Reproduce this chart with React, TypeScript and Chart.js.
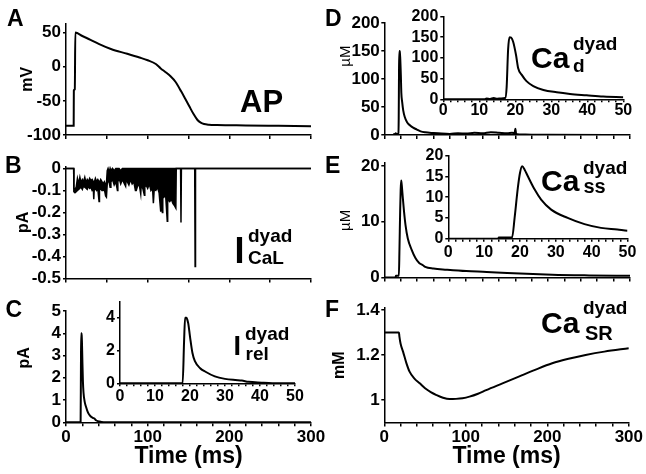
import React, { useEffect, useRef } from "react";
import { Chart, registerables } from "chart.js";
Chart.register(...registerables);

const FONT = "'Liberation Sans', Arial, Helvetica, sans-serif";

// ---------- DATA ----------
// A: action potential (mV)
const apTime = [0, 9.4, 9.6, 10.8, 11.4, 20, 30, 40, 55, 75, 90, 100, 110, 116, 122, 128, 134, 141, 146, 151, 156, 161, 165, 169, 175, 185, 220, 260, 300];
const apVm = [-86.5, -86.5, -35, -33, 50, 45, 39.5, 33.5, 26, 19, 13.5, 9.5, 4, -2.5, -8, -14, -22, -36, -47, -58, -69, -78, -82, -84, -85, -85.5, -86, -86.5, -87];

// B: I_CaL dyad (pA) – upper / lower envelope of the gating noise
const bTime = [0, 9.4, 9.6, 11, 12.5, 14, 15.5, 17, 18.5, 20,
  21.5, 23, 24.5, 26, 27.5, 29, 30.5, 32, 33.5, 34,
  34.5, 36, 37.5, 39, 40.5, 41, 42.5, 44, 45.5, 47,
  48.5, 49.5, 50.5, 51.5, 53, 54, 55, 57, 59, 61,
  63, 63.5, 65, 67, 69, 71, 73, 73.5, 75, 77,
  79, 81, 83, 85, 86, 88, 90, 91.5, 92, 94,
  96, 96.5, 98, 100, 102, 104, 106, 107, 108, 110,
  112, 114, 116, 116.5, 118, 118.5, 120, 122, 124, 124.5,
  127, 129, 131, 133, 134.5, 135, 140.3, 140.8, 141.3, 157.6,
  158.1, 158.6, 300];
const bUpper = [0, 0, -0.09, -0.095, -0.085, -0.045, -0.07, -0.04, -0.065, -0.05,
  -0.06, -0.04, -0.065, -0.05, -0.06, -0.045, -0.055, -0.05, -0.06, -0.06,
  -0.065, -0.045, -0.06, -0.05, -0.06, -0.065, -0.05, -0.06, -0.07, -0.06,
  -0.075, -0.07, -0.01, 0, -0.02, 0, -0.015, 0, -0.01, 0,
  0, 0, 0, -0.01, 0, 0, 0, 0, 0, 0,
  0, 0, 0, 0, 0, 0, 0, 0, 0, 0,
  0, 0, 0, 0, 0, 0, 0, 0, 0, 0,
  0, 0, 0, 0, 0, 0, 0, 0, 0, 0,
  0, 0, 0, 0, 0, 0, 0, 0, 0, 0,
  0, 0, 0];
const bLower = [0, 0, -0.105, -0.11, -0.105, -0.1, -0.095, -0.09, -0.085, -0.095,
  -0.08, -0.085, -0.09, -0.095, -0.08, -0.09, -0.085, -0.1, -0.095, -0.14,
  -0.1, -0.09, -0.1, -0.095, -0.15, -0.1, -0.09, -0.1, -0.1, -0.095,
  -0.125, -0.13, -0.07, -0.05, -0.065, -0.085, -0.06, -0.05, -0.075, -0.06,
  -0.1, -0.06, -0.045, -0.07, -0.05, -0.065, -0.08, -0.055, -0.06, -0.075,
  -0.05, -0.07, -0.06, -0.1, -0.1, -0.075, -0.08, -0.115, -0.08, -0.09,
  -0.122, -0.085, -0.075, -0.09, -0.07, -0.1, -0.09, -0.158, -0.095, -0.1,
  -0.085, -0.11, -0.196, -0.11, -0.2, -0.12, -0.13, -0.12, -0.24, -0.14,
  -0.15, -0.14, -0.16, -0.17, -0.18, 0, 0, -0.245, 0, 0,
  -0.446, 0, 0];

// C: I_rel dyad (pA)
const irelTime = [0, 17.9, 18.3, 18.6, 19.0, 19.2, 19.5, 20, 20.7, 21.4, 22.9, 24.3, 27.1, 30, 32.9, 34.8, 36.7, 40.5, 43.5, 50, 300];
const irelVal = [0, 0, 2.5, 4.0, 4.0, 3.9, 3.65, 2.85, 1.85, 1.35, 0.92, 0.72, 0.42, 0.27, 0.2, 0.17, 0.09, 0.04, 0.01, 0, 0];

// D: Ca_d dyad (uM)
const cadTime = [0, 11.5, 12, 13, 14, 15, 16, 17.2, 17.6, 18.0, 18.4, 18.8, 19.4, 20.2, 20.8, 21.8, 23.1, 25, 27.8, 31.5, 35.2, 39.8, 44.4, 50, 60, 70, 80, 90, 100, 110, 120, 130, 140, 150, 156, 159, 160, 161, 165, 180, 200, 300];
const cadVal = [0, 0, 2, 1, 3, 1.5, 2, 3, 30, 120, 150, 149, 139, 107, 75, 59, 44, 32, 22.6, 17, 13, 9.7, 6.5, 4.8, 3.5, 2.5, 2, 3, 2.5, 4, 3, 5, 4, 3, 4, 3, 11, 2, 1, 0.5, 0.3, 0];

// E: Ca_ss dyad (uM)
const cassTime = [0, 13.9, 14.1, 17.8, 18.5, 19.4, 20, 20.6, 21.3, 22.2, 24.1, 25.9, 28.7, 33.3, 38, 42.6, 47.2, 50, 60, 76, 100, 125, 150, 205, 250, 300];
const cassVal = [0, 0, 0.3, 0.3, 5, 12.2, 15.8, 17.4, 16.6, 15, 11.8, 9.4, 7.0, 5.0, 3.5, 2.6, 2.2, 1.9, 1.6, 1.4, 1.15, 1.0, 0.8, 0.5, 0.38, 0.3];

// F: Ca_SR dyad (mM)
const casrTime = [0, 18, 18.5, 20, 23, 27, 31, 37, 43.5, 50, 57, 64, 72, 80, 88, 96, 104.5, 115, 125, 145, 165, 185, 206, 226, 247, 270, 300];
const casrVal = [1.3, 1.3, 1.283, 1.25, 1.215, 1.165, 1.126, 1.095, 1.074, 1.052, 1.035, 1.022, 1.01, 1.004, 1.005, 1.008, 1.015, 1.028, 1.044, 1.074, 1.104, 1.134, 1.163, 1.183, 1.2, 1.215, 1.23];

// tick labels
const mainXLabels = [0, 100, 200, 300];
const insetXLabels = [0, 10, 20, 30, 40, 50];
const yTicksA = [-100, -50, 0, 50];
const yTicksB = [-0.5, -0.4, -0.3, -0.2, -0.1, 0];
const yTicksC = [0, 1, 2, 3, 4, 5];
const yTicksCin = [0, 2, 4];
const yTicksD = [0, 50, 100, 150, 200];
const yTicksDin = [0, 50, 100, 150, 200];
const yTicksE = [0, 10, 20];
const yTicksEin = [0, 5, 10, 15, 20];
const yTicksF = [1, 1.2, 1.4];

// ---------- helpers ----------
function range(a: number, b: number, s: number) {
  const r: number[] = [];
  for (let v = a; v <= b + 1e-9; v += s) r.push(Math.round(v * 1000) / 1000);
  return r;
}

function line(times: number[], vals: number[], extra: any = {}) {
  return {
    data: times.map((x, i) => ({ x, y: vals[i] })),
    borderColor: "#000",
    borderWidth: 2,
    pointRadius: 0,
    fill: false,
    cubicInterpolationMode: "monotone",
    ...extra,
  };
}

const fmt1 = (zero: number) => (v: number) => (Math.abs(v - zero) < 1e-9 ? String(zero) : v.toFixed(1));

type Spec = {
  id: string;
  area: [number, number, number, number];
  m: [number, number, number, number];
  x: { min: number; max: number; ticks: number[]; labels: number[]; font: number; tick: number; pad: number };
  y: { min: number; max: number; ticks: number[]; font: number; tick: number; pad: number; fmt?: (v: number) => string };
  yTitle?: { text: string; cx: number; size: number; weight: string };
  xTitle?: { text: string; cy: number; size: number };
  datasets: any[];
};

function PanelChart({ spec }: { spec: Spec }) {
  const ref = useRef<HTMLCanvasElement>(null);
  const [l, t, r, b] = spec.area;
  const [ml, mt, mr, mb] = spec.m;
  const left = Math.floor(l - ml);
  const top = Math.floor(t - mt);
  const width = Math.ceil(r + mr - left);
  const height = Math.ceil(b + mb - top);
  const yW = l - left;
  const padT = t - top;
  const padR = width - (r - left);
  const xH = height - (b - top);

  useEffect(() => {
    const canvas = ref.current!;
    const tickFont = (s: number) => ({ family: FONT, size: s, weight: "bold" as const });
    const grid = (len: number) => ({ display: true, drawOnChartArea: false, drawTicks: true, tickLength: len, color: "#000", lineWidth: 1.5 });
    const chart = new Chart(canvas, {
      type: "line",
      data: { datasets: spec.datasets },
      options: {
        responsive: false,
        maintainAspectRatio: false,
        animation: false,
        devicePixelRatio: 1,
        events: [],
        layout: { padding: { left: 0, top: padT, right: padR, bottom: 0 } },
        plugins: { legend: { display: false }, tooltip: { enabled: false }, title: { display: false } },
        scales: {
          x: {
            type: "linear",
            position: "bottom",
            min: spec.x.min,
            max: spec.x.max,
            afterBuildTicks: (s: any) => { s.ticks = spec.x.ticks.map((v) => ({ value: v })); },
            afterFit: (s: any) => { s.height = xH; },
            ticks: {
              autoSkip: false, maxRotation: 0, minRotation: 0, padding: spec.x.pad, color: "#000",
              font: tickFont(spec.x.font),
              callback: (v: any) => (spec.x.labels.includes(Number(v)) ? String(v) : ""),
            },
            grid: grid(spec.x.tick),
            border: { display: true, color: "#000", width: 1.5 },
            title: spec.xTitle
              ? { display: true, text: spec.xTitle.text, color: "#000", font: { family: FONT, size: spec.xTitle.size, weight: "bold" },
                  padding: { top: 0, bottom: top + height - spec.xTitle.cy - spec.xTitle.size * 0.6 } }
              : { display: false },
          },
          y: {
            type: "linear",
            min: spec.y.min,
            max: spec.y.max,
            afterBuildTicks: (s: any) => { s.ticks = spec.y.ticks.map((v) => ({ value: v })); },
            afterFit: (s: any) => { s.width = yW; },
            ticks: {
              autoSkip: false, padding: spec.y.pad, color: "#000", font: tickFont(spec.y.font),
              callback: (v: any) => (spec.y.fmt ? spec.y.fmt(Number(v)) : String(v)),
            },
            grid: grid(spec.y.tick),
            border: { display: true, color: "#000", width: 1.5 },
            title: spec.yTitle
              ? { display: true, text: spec.yTitle.text, color: "#000", font: { family: FONT, size: spec.yTitle.size, weight: spec.yTitle.weight },
                  padding: { top: spec.yTitle.cx - left - spec.yTitle.size * 0.6, bottom: 0 } }
              : { display: false },
          },
        },
      } as any,
    });
    return () => chart.destroy();
  }, []);

  return <canvas ref={ref} width={width} height={height} style={{ position: "absolute", left, top, width, height }} />;
}

function Txt({ x, base, size, children, weight = "bold" }: { x: number; base: number; size: number; children: React.ReactNode; weight?: string }) {
  return (
    <div style={{ position: "absolute", left: x, top: base - 0.8465 * size, fontSize: size, lineHeight: size + "px", fontFamily: FONT, fontWeight: weight as any, whiteSpace: "nowrap", color: "#000" }}>
      {children}
    </div>
  );
}

const mainX300 = (labels: number[], step: number) => ({ min: 0, max: 300, ticks: range(0, 300, step), labels, font: 17, tick: 4, pad: 1 });
const insetX = (pad: number) => ({ min: 0, max: 50, ticks: range(0, 50, 2), labels: insetXLabels, font: 16, tick: 3, pad });

const specs: Spec[] = [
  {
    id: "A", area: [66, 23.4, 311, 135], m: [66, 23.4, 18, 14],
    x: mainX300([], 50),
    y: { min: -100, max: 63.5, ticks: yTicksA, font: 17, tick: 3, pad: 2 },
    yTitle: { text: "mV", cx: 27.5, size: 16, weight: "bold" },
    datasets: [line(apTime, apVm)],
  },
  {
    id: "B", area: [66, 166.3, 311, 278.5], m: [66, 14, 18, 14],
    x: mainX300([], 50),
    y: { min: -0.5, max: 0.01, ticks: yTicksB, font: 17, tick: 3, pad: 2, fmt: fmt1(0) },
    yTitle: { text: "pA", cx: 24, size: 16, weight: "bold" },
    datasets: [
      line(bTime, bUpper, { cubicInterpolationMode: "default", tension: 0, borderWidth: 1.5 }),
      line(bTime, bLower, { cubicInterpolationMode: "default", tension: 0, borderWidth: 1.5, fill: "-1", backgroundColor: "#000" }),
    ],
  },
  {
    id: "C", area: [66, 311, 311, 422.3], m: [66, 14, 20, 51.7],
    x: mainX300(mainXLabels, 20),
    y: { min: 0, max: 5, ticks: yTicksC, font: 17, tick: 3, pad: 2 },
    yTitle: { text: "    pA", cx: 25, size: 16, weight: "bold" },
    xTitle: { text: "Time (ms)", cy: 457, size: 23 },
    datasets: [line(irelTime, irelVal)],
  },
  {
    id: "D", area: [384.3, 23, 630, 135], m: [61.3, 14, 14, 14],
    x: mainX300([], 20),
    y: { min: 0, max: 200, ticks: yTicksD, font: 17, tick: 3, pad: 1.5 },
    yTitle: { text: "           µM", cx: 346, size: 15, weight: "normal" },
    datasets: [line(cadTime, cadVal)],
  },
  {
    id: "E", area: [384.3, 163.2, 630, 277.5], m: [61.3, 14, 14, 14],
    x: mainX300([], 20),
    y: { min: 0, max: 20.5, ticks: yTicksE, font: 17, tick: 3, pad: 1.5 },
    yTitle: { text: "µM", cx: 346, size: 15, weight: "normal" },
    datasets: [line(cassTime, cassVal)],
  },
  {
    id: "F", area: [384.3, 307.75, 630, 422.5], m: [61.3, 14, 14, 51.5],
    x: mainX300(mainXLabels, 20),
    y: { min: 0.9, max: 1.41, ticks: yTicksF, font: 17, tick: 3, pad: 1.5, fmt: fmt1(1) },
    yTitle: { text: "mM", cx: 340, size: 16, weight: "bold" },
    xTitle: { text: "Time (ms)", cy: 457, size: 23 },
    datasets: [line(casrTime, casrVal)],
  },
  {
    id: "Cin", area: [120, 301.3, 295, 383.3], m: [30, 14, 14, 28],
    x: insetX(1),
    y: { min: 0, max: 5, ticks: yTicksCin, font: 16, tick: 3, pad: 2 },
    datasets: [line(irelTime, irelVal)],
  },
  {
    id: "Din", area: [443.3, 16.5, 623.3, 99.3], m: [40, 14, 14, 26],
    x: insetX(-1),
    y: { min: 0, max: 200, ticks: yTicksDin, font: 16, tick: 3, pad: 2 },
    datasets: [line(cadTime, cadVal)],
  },
  {
    id: "Ein", area: [448.3, 155.5, 627.5, 238.7], m: [30, 14, 14, 26],
    x: insetX(1),
    y: { min: 0, max: 20, ticks: yTicksEin, font: 16, tick: 3, pad: 2 },
    datasets: [line(cassTime, cassVal)],
  },
];

export default function App() {
  useEffect(() => {
    document.body.style.margin = "0";
  }, []);
  return (
    <div style={{ position: "absolute", left: 0, top: 0, width: 646, height: 474, background: "#fff", overflow: "hidden" }}>
      {specs.map((s) => (
        <PanelChart key={s.id} spec={s} />
      ))}
      {/* panel letters */}
      <Txt x={7} base={26.7} size={23}>A</Txt>
      <Txt x={5} base={173.3} size={23}>B</Txt>
      <Txt x={5.5} base={317.5} size={23}>C</Txt>
      <Txt x={325} base={26.7} size={23}>D</Txt>
      <Txt x={325} base={173.3} size={23}>E</Txt>
      <Txt x={325} base={317.5} size={23}>F</Txt>
      {/* trace labels */}
      <Txt x={240} base={112} size={31}>AP</Txt>
      <Txt x={234.5} base={263} size={36}>I</Txt>
      <Txt x={248} base={242} size={19}>dyad</Txt>
      <Txt x={248} base={264.5} size={19}>CaL</Txt>
      <Txt x={233.5} base={356} size={27}>I</Txt>
      <Txt x={245} base={340} size={19}>dyad</Txt>
      <Txt x={245.5} base={360} size={19}>rel</Txt>
      <Txt x={531} base={68} size={30}>Ca</Txt>
      <Txt x={573} base={50.5} size={19}>dyad</Txt>
      <Txt x={573} base={72.5} size={19}>d</Txt>
      <Txt x={541} base={191} size={30}>Ca</Txt>
      <Txt x={583} base={174} size={19}>dyad</Txt>
      <Txt x={583.5} base={193} size={20}>ss</Txt>
      <Txt x={541} base={333} size={30}>Ca</Txt>
      <Txt x={583} base={314} size={19}>dyad</Txt>
      <Txt x={585} base={340} size={20}>SR</Txt>
    </div>
  );
}
